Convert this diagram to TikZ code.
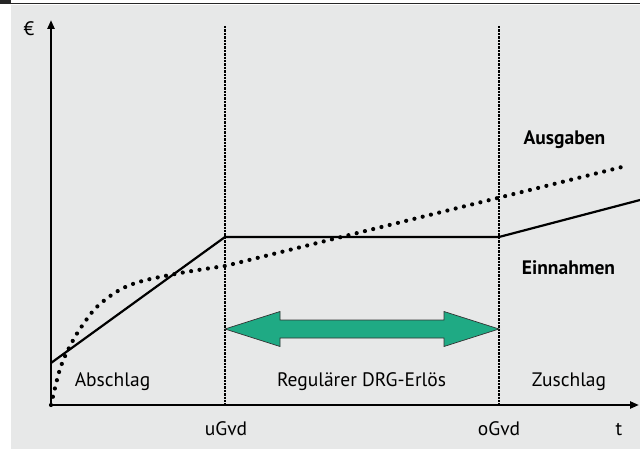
\documentclass[tikz,border=0pt]{standalone}
\usepackage{fontspec}
\setmainfont{PT Sans}
\usetikzlibrary{arrows.meta}
\usetikzlibrary{positioning}
\definecolor{hgrau}{RGB}{231,232,232}
\definecolor{drggruen}{RGB}{31,170,132}

\begin{document}
\begin{tikzpicture}
  [x=1pt, y=-1pt,
  achse/.style={black,line width=2.6pt,-{Triangle[length=9pt,width=7pt]}},
  grenze/.style={black,line width=2.8pt,dash pattern=on 2.4pt off 1pt},
  einnahmen/.style={black,line width=2.2pt,line join=miter},
  ausgaben/.style={black,line width=4.2pt,line cap=round,dash pattern=on 0pt off 8.5pt},
  pfeil/.style={fill=drggruen,draw=black!80,line width=0.7pt,line join=miter},
  txt/.style={anchor=base,inner sep=0pt,font=\fontsize{19.5}{22}\selectfont},
  fett/.style={txt,font=\fontsize{19.5}{22}\selectfont\bfseries}]
  \useasboundingbox (0,0) rectangle (640,449);
  \fill[hgrau] (11,5) rectangle (640,449);
  \fill[black!85] (0,0) rectangle (11,4.5);
  \draw[black!85,line width=1.6pt] (11,3.6) -- (640,3.6);

  \coordinate (O) at (51,405);
  \coordinate (ytop) at (51,20);
  \coordinate (xend) at (639,405);
  \coordinate (uGtop) at (225,26);
  \coordinate (uGbot) at (225,405);
  \coordinate (oGtop) at (499,26);
  \coordinate (oGbot) at (499,405);

  \draw [grenze] (uGtop) -- (uGbot);
  \draw [grenze] (oGtop) -- (oGbot);

  % Einnahmen
  \coordinate (e1) at (51,363);
  \coordinate (e2) at (225,237);
  \coordinate (e3) at (499,237);
  \coordinate (e4) at (640,200);
  \draw [einnahmen] (e1) -- (e2) -- (e3) -- (e4);

  % Ausgaben
  \draw [ausgaben] plot[smooth,tension=0.6] coordinates {(51,405) (55,388) (61,366) (70,346) (82,326) (100,304) (130,285) (175,274) (225,266)} -- (626,166);

  % Regelbereich
  \coordinate (pl) at (225,329);
  \coordinate (pr) at (499,329);
  \draw [pfeil] (pl) -- ++(55,-17.5) -- ++(0,8.5) -- ++(164,0) -- ++(0,-8.5) -- (pr)
    -- ++(-55,17.5) -- ++(0,-8.5) -- ++(-164,0) -- ++(0,8.5) -- cycle;

  \draw [achse] (O) -- (ytop);
  \draw [achse] (O) -- (xend);

  \node[txt] (euro) at (29,36) {€};
  \node[txt] (tlab) at (619,435) {t};
  \node[txt] (uGvd) at (226,435) {uGvd};
  \node[txt] (oGvd) at (499,435) {oGvd};
  \node[txt] (absch) at (112.5,386.5) {Abschlag};
  \node[txt] (regul) at (361.5,386.5) {Regulärer DRG-Erlös};
  \node[txt] (zusch) at (569,386.5) {Zuschlag};
  \node[fett] (ausg) at (564.5,145) {Ausgaben};
  \node[fett] (einn) at (568.5,274) {Einnahmen};
\end{tikzpicture}
\end{document}
